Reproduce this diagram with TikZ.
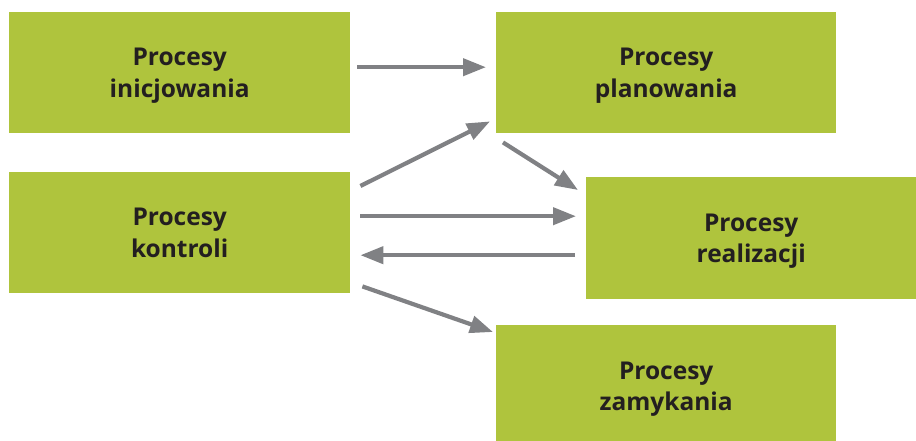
\documentclass[tikz,border=0pt]{standalone}
\usepackage{fontspec}
\setmainfont{Open Sans}
\usetikzlibrary{arrows.meta}
\definecolor{boxgreen}{HTML}{AFC43D}
\definecolor{arrgray}{HTML}{808184}
\definecolor{txt}{HTML}{231F20}
\begin{document}
\begin{tikzpicture}[x=1pt,y=-1pt,
  procbox/.style={fill=boxgreen,draw=none,inner sep=0pt,anchor=north west,
    text=txt,font=\fontsize{24.5}{31.6}\selectfont\bfseries,align=center},
  conn/.style={draw=arrgray,line width=4.2pt,-{Triangle[length=23pt,width=17pt]}}]
\useasboundingbox (0,0) rectangle (916,440);
\node[procbox,minimum width=341pt,minimum height=121pt] (ini) at (9,12) {Procesy\\\smash{inicjowania}};
\node[procbox,minimum width=340pt,minimum height=121pt] (pla) at (496,12) {Procesy\\\smash{planowania}};
\node[procbox,minimum width=341pt,minimum height=121pt] (kon) at (9,172) {Procesy\\\smash{kontroli}};
\node[procbox,minimum width=330pt,minimum height=122pt] (rea) at (586,177) {Procesy\\\smash{realizacji}};
\node[procbox,minimum width=340pt,minimum height=122pt] (zam) at (496,325) {Procesy\\\smash{zamykania}};
\draw[conn] ([shift={(7,-5.5)}]ini.east) -- ([shift={(-10,-5.5)}]pla.west);
\draw[conn] ([shift={(10,14)}]kon.north east) -- ([shift={(-6,-12)}]pla.south west);
\draw[conn] ([shift={(7,9)}]pla.south west) -- ([shift={(-8,13)}]rea.north west);
\draw[conn] ([shift={(10,-16.5)}]kon.east) -- ([shift={(-10,-22)}]rea.west);
\draw[conn] ([shift={(-11,17)}]rea.west) -- ([shift={(10,22.5)}]kon.east);
\draw[conn] ([shift={(12,-7)}]kon.south east) -- ([shift={(-3,7)}]zam.north west);
\end{tikzpicture}
\end{document}
